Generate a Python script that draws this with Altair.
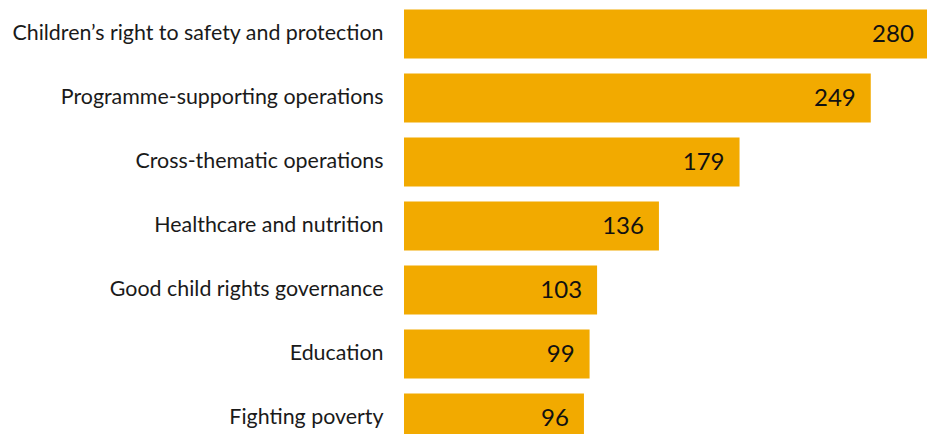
import altair as alt
import pandas as pd

categories = [
    "Children\u2019s right to safety and protection",
    "Programme-supporting operations",
    "Cross-thematic operations",
    "Healthcare and nutrition",
    "Good child rights governance",
    "Education",
    "Fighting poverty",
]
values = [280, 249, 179, 136, 103, 99, 96]

df = pd.DataFrame({"category": categories, "value": values})

y = alt.Y(
    "category:N",
    sort=categories,
    scale=alt.Scale(range=[0, 448], paddingInner=0.234, paddingOuter=0.117),
    axis=alt.Axis(
        title=None, domain=False, ticks=False, labelPadding=21,
        labelFont="Lato", labelFontSize=21.4, labelColor="#1a1a1a",
        labelLimit=500,
    ),
)
x = alt.X(
    "value:Q",
    scale=alt.Scale(domain=[0, 279], nice=False),
    axis=None,
)

bars = alt.Chart(df).mark_bar(color="#F2AA00").encode(x=x, y=y)
labels = alt.Chart(df).mark_text(
    align="right", baseline="middle", dx=-15, dy=1,
    font="Lato", fontSize=24, color="#111111",
).encode(x=x, y=y, text="value:Q")

chart = (
    alt.layer(bars, labels)
    .properties(width=523, height=432, autosize=alt.AutoSizeParams(type="none"),
                padding={"left": 404, "top": 2, "right": 0, "bottom": 0})
    .configure_view(stroke=None)
)

chart.save("out.html", embed_options={"renderer": "svg", "actions": False})
